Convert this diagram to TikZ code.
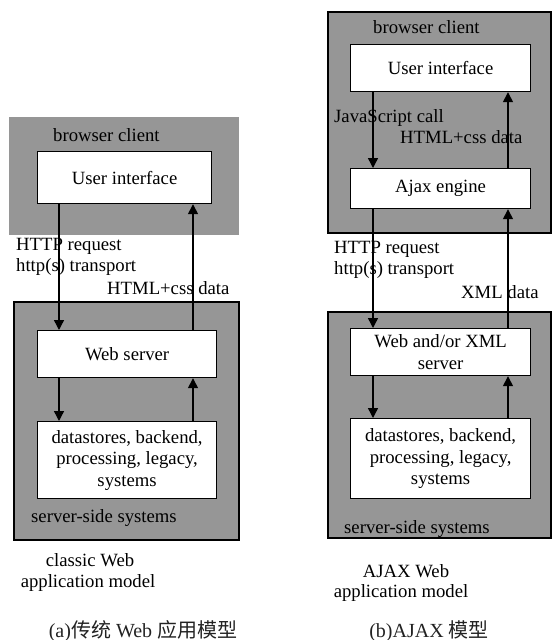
\documentclass[tikz,border=0pt]{standalone}
\usepackage{fontspec}
\setmainfont{Liberation Serif}
\newfontfamily\zhfont{Noto Sans CJK SC}
\usetikzlibrary{arrows.meta,positioning}
\definecolor{panel}{HTML}{969696}
\definecolor{cap}{HTML}{222222}
\tikzset{zone/.style={fill=panel,line width=1.5pt},box/.style={draw,fill=white,line width=1.2pt,align=center,inner sep=0pt,anchor=north west},arr/.style={-{Triangle[length=10pt,width=10pt]},line width=1.4pt},lbl/.style={anchor=base west,inner sep=0pt},mid/.style={anchor=base,inner sep=0pt},capt/.style={mid,text=cap,font=\fontsize{20}{24}\selectfont}}

\begin{document}
\begin{tikzpicture}[x=1pt,y=-1pt,font=\fontsize{18.7}{21.5}\selectfont]
\useasboundingbox (0,0) rectangle (552,640);
% classic model
\fill[panel] (9,117) rectangle (239,235);
\draw[zone] (14,302) rectangle (239,540);
\node[lbl] (bc) at (53,141) {browser client};
\node[box,minimum width=174,minimum height=52] (ui) at (37,151) {User interface};
\node[box,minimum width=179,minimum height=47] (web) at (37,330) {Web server};
\node[box,minimum width=179,minimum height=77] (data) at (37,421) {datastores, backend,\\processing, legacy,\\systems};
\node[lbl] (req) at (16,250) {HTTP request};
\node[lbl] (tr) at (16,271) {http(s) transport};
\node[lbl] (html) at (107,294) {HTML+css data};
\node[lbl] (ss) at (31,522) {server-side systems};
\node[mid] (cl) at (90,566) {classic Web};
\node[mid] (am) at (88,587) {application model};
\node[capt] (capa) at (143,637) {(a){\zhfont 传统} Web {\zhfont 应用模型}};
\coordinate (dn) at (59,0);\coordinate (up) at (193,0);
\draw[arr] (ui.south -| dn)--(web.north -| dn);\draw[arr] (web.north -| up)--(ui.south -| up);
\draw[arr] (web.south -| dn)--(data.north -| dn);\draw[arr] (data.north -| up)--(web.south -| up);
% ajax model
\draw[zone] (328,12) rectangle (551,233);
\draw[zone] (328,312) rectangle (551,538);
\node[lbl] (bc2) at (373,33) {browser client};
\node[box,minimum width=180,minimum height=47] (ui2) at (350,44) {User interface};
\node[box,minimum width=180,minimum height=40] (ajax) at (350,168) {Ajax engine};
\node[box,minimum width=180,minimum height=47] (web2) at (350,328) {Web and/or XML\\server};
\node[box,minimum width=180,minimum height=80] (data2) at (350,418) {datastores, backend,\\processing, legacy,\\systems};
\node[lbl] (js) at (334,122) {JavaScript call};
\node[lbl] (html2) at (400,143) {HTML+css data};
\node[lbl] (req2) at (334,253) {HTTP request};
\node[lbl] (tr2) at (334,274) {http(s) transport};
\node[lbl] (xml) at (461,298) {XML data};
\node[lbl] (ss2) at (344,533) {server-side systems};
\node[mid] (aw) at (406,577) {AJAX Web};
\node[mid] (am2) at (401,597) {application model};
\node[capt] (capb) at (429,637) {(b)AJAX {\zhfont 模型}};
\coordinate (dn2) at (373,0);\coordinate (up2) at (508,0);
\draw[arr] (ui2.south -| dn2)--(ajax.north -| dn2);\draw[arr] (ajax.north -| up2)--(ui2.south -| up2);
\draw[arr] (ajax.south -| dn2)--(web2.north -| dn2);\draw[arr] (web2.north -| up2)--(ajax.south -| up2);
\draw[arr] (web2.south -| dn2)--(data2.north -| dn2);\draw[arr] (data2.north -| up2)--(web2.south -| up2);
\end{tikzpicture}
\end{document}
